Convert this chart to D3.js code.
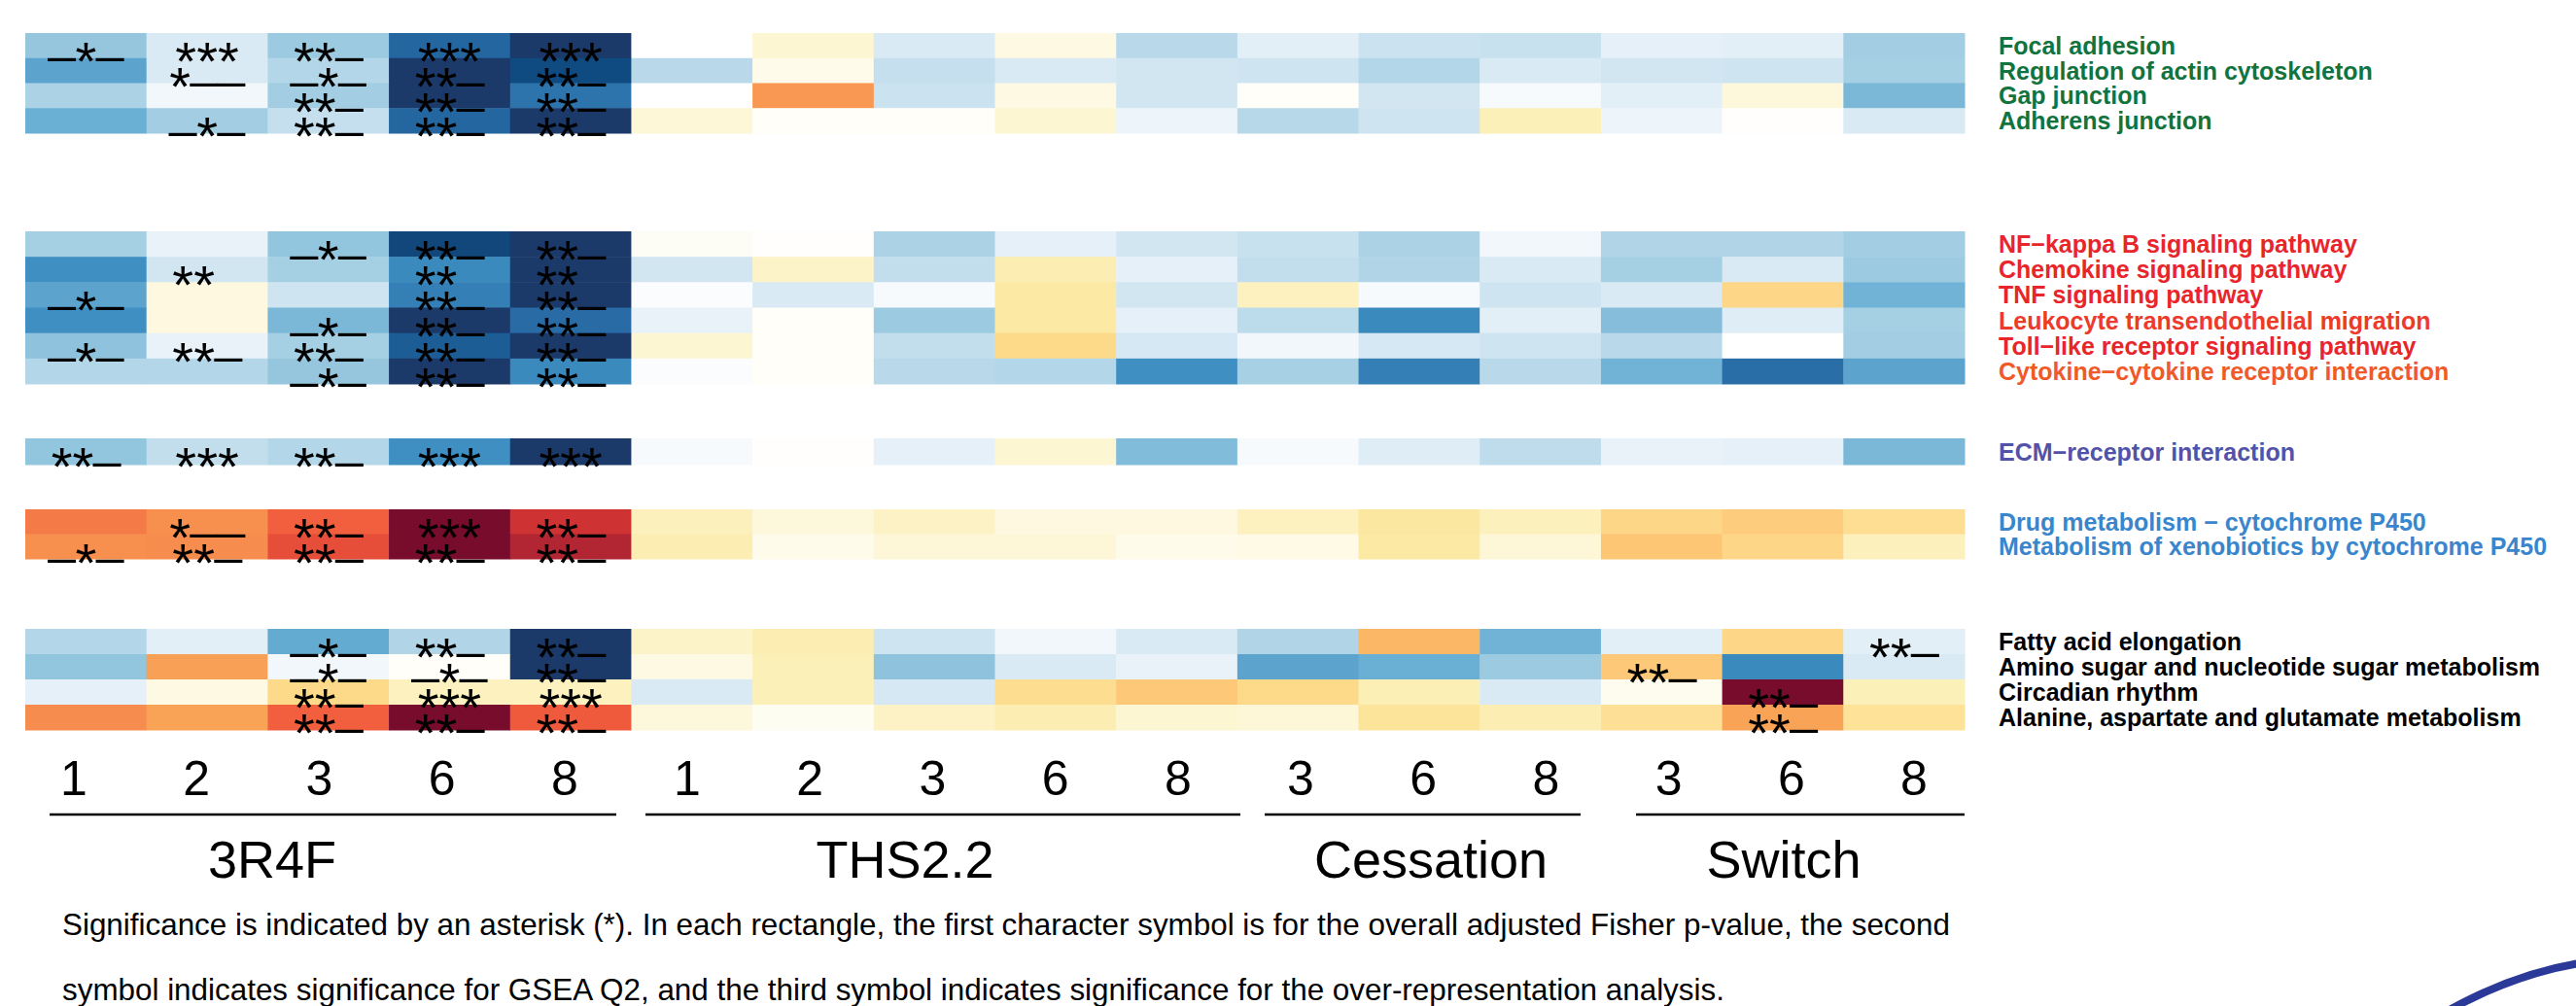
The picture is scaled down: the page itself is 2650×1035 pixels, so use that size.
<!DOCTYPE html>
<html><head><meta charset="utf-8">
<script src="https://cdn.jsdelivr.net/npm/d3@7"></script>
<style>body{margin:0;background:#fff;overflow:hidden}</style>
</head><body><svg id="chart" width="2650" height="1035"></svg>
<script>
// ---------------- DATA ----------------
const conditions = ["3R4F", "THS2.2", "Cessation", "Switch"];
const conditionMonths = [["1","2","3","6","8"], ["1","2","3","6","8"], ["3","6","8"], ["3","6","8"]];
const columns = conditions.flatMap((c, i) => conditionMonths[i].map(m => c + "_" + m));
const columnTicks = conditionMonths.flat();

const pathwayGroups = [
  ["Focal adhesion", "Regulation of actin cytoskeleton", "Gap junction", "Adherens junction"],
  ["NF\u2212kappa B signaling pathway", "Chemokine signaling pathway", "TNF signaling pathway",
   "Leukocyte transendothelial migration", "Toll\u2212like receptor signaling pathway", "Cytokine\u2212cytokine receptor interaction"],
  ["ECM\u2212receptor interaction"],
  ["Drug metabolism \u2212 cytochrome P450", "Metabolism of xenobiotics by cytochrome P450"],
  ["Fatty acid elongation", "Amino sugar and nucleotide sugar metabolism", "Circadian rhythm", "Alanine, aspartate and glutamate metabolism"]
];
const pathways = pathwayGroups.flat();

// colour-scale scores (-1 = strongest down, +1 = strongest up), one array per pathway, 16 columns
const scores = [
  [-0.32,-0.10,-0.30,-0.75,-1.00,  0.00, 0.12,-0.10, 0.08,-0.20, -0.07,-0.14,-0.15, -0.06,-0.07,-0.28],
  [-0.50,-0.10,-0.22,-1.00,-0.90, -0.20, 0.06,-0.16,-0.10,-0.12, -0.13,-0.22,-0.10, -0.12,-0.13,-0.27],
  [-0.25,-0.03,-0.28,-1.00,-0.70,  0.00, 0.60,-0.14, 0.08,-0.12,  0.02,-0.12,-0.02, -0.07, 0.10,-0.40],
  [-0.45,-0.28,-0.16,-0.75,-1.00,  0.11, 0.02, 0.02, 0.12,-0.04, -0.21,-0.13, 0.20, -0.04, 0.01,-0.10],

  [-0.27,-0.05,-0.33,-0.92,-1.00,  0.03, 0.01,-0.25,-0.06,-0.12, -0.15,-0.25,-0.03, -0.23,-0.23,-0.28],
  [-0.60,-0.12,-0.27,-0.62,-1.00, -0.12, 0.15,-0.17, 0.22,-0.06, -0.17,-0.23,-0.10, -0.27,-0.10,-0.30],
  [-0.50, 0.09,-0.13,-0.66,-1.00, -0.01,-0.10,-0.02, 0.27,-0.12,  0.18,-0.02,-0.13, -0.10, 0.37,-0.43],
  [-0.60, 0.09,-0.40,-1.00,-0.73, -0.05, 0.02,-0.30, 0.27,-0.06, -0.19,-0.62,-0.07, -0.37,-0.08,-0.27],
  [-0.34,-0.05,-0.27,-0.80,-1.00,  0.12, 0.02,-0.17, 0.36,-0.11, -0.03,-0.11,-0.13, -0.20, 0.00,-0.28],
  [-0.22,-0.22,-0.32,-1.00,-0.62, -0.01, 0.02,-0.20,-0.22,-0.60, -0.26,-0.66,-0.20, -0.43,-0.72,-0.50],

  [-0.33,-0.17,-0.22,-0.60,-1.00, -0.02, 0.01,-0.06, 0.12,-0.38, -0.02,-0.08,-0.18, -0.05,-0.06,-0.40],

  [ 0.68, 0.63, 0.74, 1.00, 0.85,  0.19, 0.10, 0.16, 0.09, 0.09,  0.18, 0.28, 0.19,  0.37, 0.42, 0.33],
  [ 0.63, 0.64, 0.78, 1.00, 0.92,  0.22, 0.06, 0.11, 0.11, 0.06,  0.07, 0.27, 0.11,  0.45, 0.37, 0.19],

  [-0.22,-0.07,-0.47,-0.23,-1.00,  0.15, 0.22,-0.13,-0.03,-0.10, -0.23, 0.50,-0.43, -0.07, 0.37,-0.07],
  [-0.33, 0.57,-0.03, 0.02,-1.00,  0.08, 0.20,-0.34,-0.10,-0.05, -0.50,-0.45,-0.30,  0.44,-0.62,-0.10],
  [-0.06, 0.08, 0.36, 0.18, 0.18, -0.10, 0.20,-0.11, 0.34, 0.44,  0.36, 0.21,-0.10,  0.05, 1.00, 0.20],
  [ 0.64, 0.56, 0.74, 1.00, 0.75,  0.10, 0.04, 0.16, 0.22, 0.12,  0.11, 0.30, 0.22,  0.32, 0.56, 0.31]
];

// significance symbols: 1st = adjusted Fisher p, 2nd = GSEA Q2, 3rd = over-representation
// ("_" = not significant, "*" = significant, " " = symbol not shown)
const symbols = [
  ["_*_","***","**_","***","***", "","","","","", "","","", "","",""],
  ["","*__","_*_","**_","**_", "","","","","", "","","", "","",""],
  ["","","**_","**_","**_", "","","","","", "","","", "","",""],
  ["","_*_","**_","**_","**_", "","","","","", "","","", "","",""],

  ["","","_*_","**_","**_", "","","","","", "","","", "","",""],
  ["","** ","","** ","** ", "","","","","", "","","", "","",""],
  ["_*_","","","**_","**_", "","","","","", "","","", "","",""],
  ["","","_*_","**_","**_", "","","","","", "","","", "","",""],
  ["_*_","**_","**_","**_","**_", "","","","","", "","","", "","",""],
  ["","","_*_","**_","**_", "","","","","", "","","", "","",""],

  ["**_","***","**_","***","***", "","","","","", "","","", "","",""],

  ["","*__","**_","***","**_", "","","","","", "","","", "","",""],
  ["_*_","**_","**_","**_","**_", "","","","","", "","","", "","",""],

  ["","","_*_","**_","**_", "","","","","", "","","", "","","**_"],
  ["","","_*_","_*_","**_", "","","","","", "","","", "**_","",""],
  ["","","**_","***","***", "","","","","", "","","", "","**_",""],
  ["","","**_","**_","**_", "","","","","", "","","", "","**_",""]
];

const caption = [
  "Significance is indicated by an asterisk (*). In each rectangle, the first character symbol is for the overall adjusted Fisher p-value, the second",
  "symbol indicates significance for GSEA Q2, and the third symbol indicates significance for the over-representation analysis."
];

// ---------------- STYLE / LAYOUT ----------------
const labelColors = [
  ["#11743f","#11743f","#11743f","#11743f"],
  ["#e8252b","#e8252b","#e8252b","#ec3a2b","#e8252b","#f05a28"],
  ["#5252a8"],
  ["#3a86cc","#3a86cc"],
  ["#000","#000","#000","#000"]
];
const groupBands = [[34,137],[238,395],[451,478],[524,575],[647,751]];
const heatLeft = 26, heatRight = 2021;
const FONT = "'Liberation Sans', Arial, Helvetica, sans-serif";

const svg = d3.select("#chart");
const x = d3.scaleBand().domain(columns).range([heatLeft, heatRight]);
const xTick = d3.scalePoint().domain(columns).range([76, 1969]);

const color = d3.scaleLinear()
  .domain([-1,-0.9,-0.75,-0.6,-0.45,-0.3,-0.15,-0.05,0,0.05,0.15,0.25,0.35,0.45,0.55,0.65,0.75,0.85,0.92,1])
  .range(["#1b3969","#0f4a80","#2466a0","#3f8fc3","#6aafd4","#9ccae0","#c8e1ef","#e9f2f9","#ffffff","#fefcee",
          "#fcf3c8","#fcecaa","#fddb8c","#fdc675","#f9a657","#f6894d","#f05a3c","#cf3232","#b22533","#780c2c"])
  .interpolate(d3.interpolateRgb)
  .clamp(true);

const yScales = pathwayGroups.map((g, gi) => d3.scaleBand().domain(g).range(groupBands[gi]));
const rows = [];
pathwayGroups.forEach((g, gi) => g.forEach((p, pi) => rows.push({name: p, g: gi, y: yScales[gi], color: labelColors[gi][pi]})));

const cellLayer = svg.append("g");
const textLayer = svg.append("g");
rows.forEach((r, ri) => {
  cellLayer.selectAll(null).data(columns).enter().append("rect")
    .attr("x", c => x(c)).attr("y", r.y(r.name))
    .attr("width", x.bandwidth() + 0.5).attr("height", r.y.bandwidth() + 0.5)
    .attr("fill", (c, ci) => color(scores[ri][ci]));
});

// significance symbols (relative dy keeps one text chunk so centring works)
const starBase = 48, barBase = 19;
rows.forEach((r, ri) => {
  const top = r.y(r.name);
  columns.forEach((c, ci) => {
    const s = symbols[ri][ci];
    if (!s) return;
    const t = textLayer.append("text")
      .attr("x", x(c) + x.bandwidth() / 2)
      .attr("y", top + starBase)
      .attr("text-anchor", "middle")
      .attr("font-family", FONT);
    let cur = starBase;
    for (const ch of s) {
      const ts = t.append("tspan");
      if (ch === "_" || ch === " ") {
        ts.text("_").attr("dy", barBase - cur).attr("font-size", 50);
        cur = barBase;
        if (ch === " ") ts.attr("fill-opacity", 0);
      } else {
        ts.text(ch).attr("dy", starBase - cur).attr("font-size", 56);
        cur = starBase;
      }
    }
  });
});

// row labels
svg.append("g").selectAll("text").data(rows).enter().append("text")
  .attr("x", 2056)
  .attr("y", r => r.y(r.name) + r.y.bandwidth() / 2 + 9)
  .attr("font-family", FONT)
  .attr("font-weight", "bold")
  .attr("font-size", 25)
  .attr("fill", r => r.color)
  .text(r => r.name);

// column ticks
svg.append("g").selectAll("text").data(columns).enter().append("text")
  .attr("x", c => xTick(c))
  .attr("y", 818)
  .attr("text-anchor", "middle")
  .attr("font-family", FONT)
  .attr("font-size", 50)
  .text((c, i) => columnTicks[i]);

// condition brackets
const bracketSpans = [[51,634],[664,1276],[1301,1626],[1683,2021]];
const labelCenters = [280, 931, 1472, 1835];
conditions.forEach((c, i) => {
  svg.append("line").attr("x1", bracketSpans[i][0]).attr("x2", bracketSpans[i][1])
    .attr("y1", 838).attr("y2", 838).attr("stroke", "#000").attr("stroke-width", 2.5);
  svg.append("text").attr("x", labelCenters[i]).attr("y", 903)
    .attr("text-anchor", "middle")
    .attr("font-family", FONT)
    .attr("font-size", 54).text(c);
});

// caption
svg.append("g").selectAll("text").data(caption).enter().append("text")
  .attr("x", 64).attr("y", (d, i) => 962 + i * 67)
  .attr("font-family", FONT)
  .attr("font-size", 31.4).text(d => d);

// decorative arc at bottom-right corner
svg.append("path").attr("d", "M2518,1040 Q2590,1000 2660,990")
  .attr("fill", "none").attr("stroke", "#2b3a98").attr("stroke-width", 8);
</script>
</body></html>
